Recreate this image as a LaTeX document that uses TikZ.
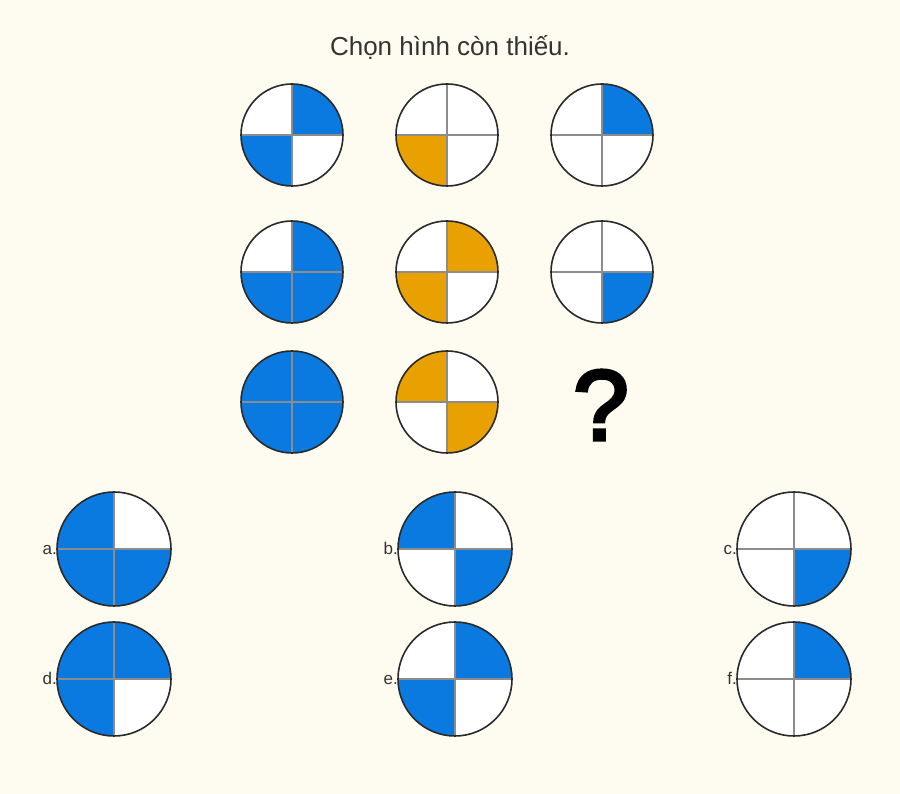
\documentclass[tikz,border=0pt]{standalone}
\usepackage{fontspec}
\setmainfont{Liberation Sans}
\newfontfamily\qmfont{Liberation Sans}[FakeBold=3.5]
\usetikzlibrary{calc}
\definecolor{bgc}{HTML}{FEFCF0}
\definecolor{pblue}{HTML}{0A7AE0}
\definecolor{porange}{HTML}{E9A102}
\definecolor{ink}{HTML}{333333}
\definecolor{ringc}{HTML}{2A2A2A}
\tikzset{
  divline/.style={draw=black!45, line width=1.1pt},
  ring/.style={draw=ringc, line width=1.6pt},
  lbl/.style={text=ink, font=\fontsize{17}{17}\selectfont, anchor=base east, inner sep=0pt},
}
\newcommand\mypie[7]{%
  \coordinate (#1) at #2;
  \fill[#4] (#1) -- ++(#3pt,0) arc[start angle=0,end angle=90,radius=#3pt] -- cycle;
  \fill[#5] (#1) -- ++(0,#3pt) arc[start angle=90,end angle=180,radius=#3pt] -- cycle;
  \fill[#6] (#1) -- ++(-#3pt,0) arc[start angle=180,end angle=270,radius=#3pt] -- cycle;
  \fill[#7] (#1) -- ++(0,-#3pt) arc[start angle=270,end angle=360,radius=#3pt] -- cycle;
  \draw[divline] ($(#1)+(-#3pt,0)$) -- ($(#1)+(#3pt,0)$);
  \draw[divline] ($(#1)+(0,-#3pt)$) -- ($(#1)+(0,#3pt)$);
  \draw[ring] (#1) circle[radius=#3pt];
}
\begin{document}
\begin{tikzpicture}[x=1pt,y=1pt]
\fill[bgc] (0,0) rectangle (900,794);
\useasboundingbox (0,0) rectangle (900,794);
\node[text=ink, font=\fontsize{26}{26}\selectfont] (title) at (450,747) {Chọn hình còn thiếu.};
% grid
\mypie{g11}{(292,659)}{51}{pblue}{white}{pblue}{white}
\mypie{g12}{(447,659)}{51}{white}{white}{porange}{white}
\mypie{g13}{(602,659)}{51}{pblue}{white}{white}{white}
\mypie{g21}{(292,522)}{51}{pblue}{white}{pblue}{pblue}
\mypie{g22}{(447,522)}{51}{porange}{white}{porange}{white}
\mypie{g23}{(602,522)}{51}{white}{white}{white}{pblue}
\mypie{g31}{(292,392)}{51}{pblue}{pblue}{pblue}{pblue}
\mypie{g32}{(447,392)}{51}{white}{porange}{white}{porange}
\node[font=\fontsize{100}{100}\selectfont\qmfont, text=black, anchor=base] (qm) at (601,354) {?};
% options
\mypie{oa}{(114,245)}{57}{white}{pblue}{pblue}{pblue}
\mypie{ob}{(455,245)}{57}{white}{pblue}{white}{pblue}
\mypie{oc}{(794,245)}{57}{white}{white}{white}{pblue}
\mypie{od}{(114,115)}{57}{pblue}{pblue}{pblue}{white}
\mypie{oe}{(455,115)}{57}{pblue}{white}{pblue}{white}
\mypie{of}{(794,115)}{57}{pblue}{white}{white}{white}
\node[lbl] (la) at (57,239) {a.};
\node[lbl] (lb) at (398,239) {b.};
\node[lbl] (lc) at (737,239) {c.};
\node[lbl] (ld) at (57,109) {d.};
\node[lbl] (le) at (398,109) {e.};
\node[lbl] (lf) at (737,109) {f.};
\end{tikzpicture}
\end{document}
